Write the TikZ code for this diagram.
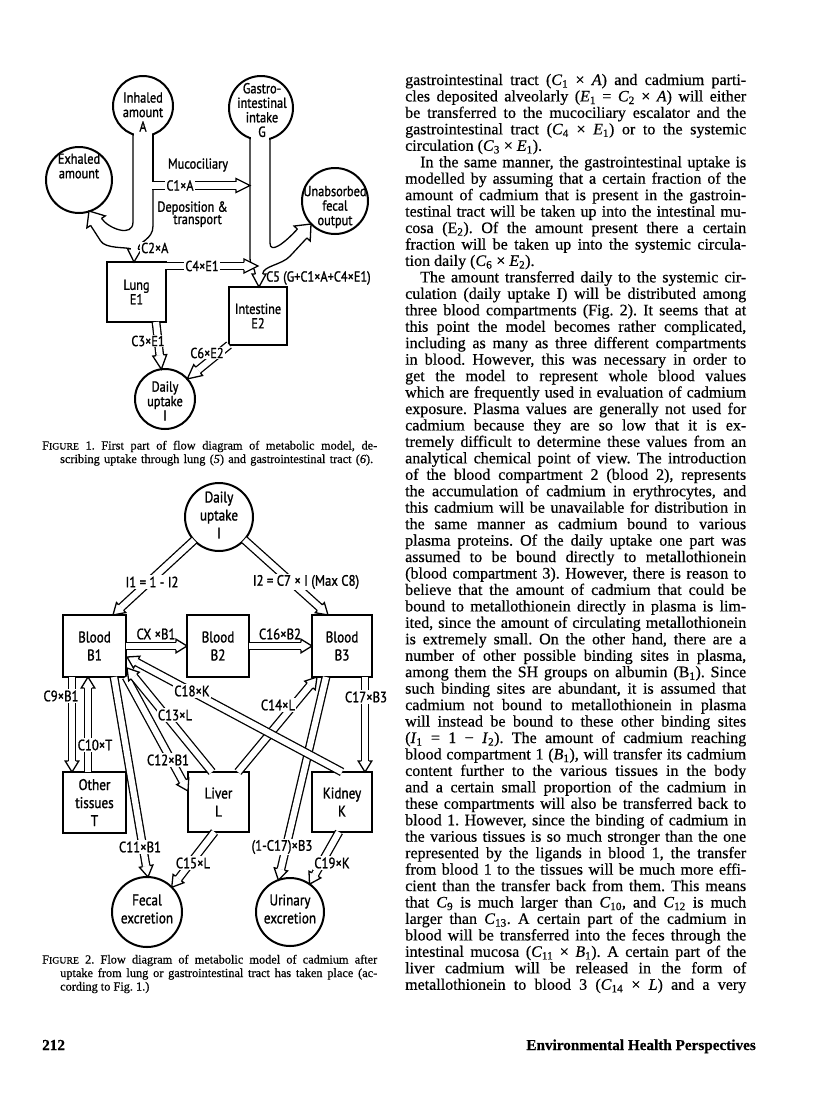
\documentclass[tikz,border=0pt]{standalone}
\usepackage{fontspec}
\usepackage{graphicx}
\setmainfont{Liberation Serif}[FakeBold=0.5]
\newfontfamily\lab[FakeStretch=0.85,FakeBold=1.2]{PT Sans}
\usetikzlibrary{calc}
\frenchspacing
\newsavebox\jbox
\newcommand\jline[2]{\sbox\jbox{#2}\ifdim\wd\jbox>#1\relax\resizebox{#1}{\ht\jbox}{#2}\else\makebox[#1][s]{#2}\fi}
\newcommand\J[1]{\jline{341pt}{#1}\par}
\newcommand\Jl[1]{\makebox[341pt][l]{#1}\par}
\newcommand\Ji[1]{\hspace*{15pt}\jline{326pt}{#1}\par}
\newcommand\Ci[1]{\textit{C}\textsubscript{#1}}
\newcommand\Ei[1]{\textit{E}\textsubscript{#1}}
\newcommand\Ii[1]{\textit{I}\textsubscript{#1}}
\newcommand\Bi[1]{\textit{B}\textsubscript{#1}}
\newcommand\fA{\lab\fontsize{14.5}{14.5}\selectfont}
\newcommand\fB{\lab\fontsize{15.5}{18}\selectfont}
\newcommand\fL{\lab\fontsize{15}{15}\selectfont}
\newcommand\capf{\fontsize{12.3}{14}\selectfont}
\newcommand\sCap[1]{{\fontsize{9.8}{10}\selectfont #1}}
\def\SW{3.75pt}\def\HW{7pt}\def\HL{13pt}\def\DD{6.2pt}
\newcommand\hhead[3]{%
  \path #2 coordinate (#1-s) #3 coordinate (#1-t);
  \coordinate (#1-b) at ($(#1-t)!\HL!(#1-s)$);
  \coordinate (#1-sl) at ($(#1-b)!\SW!90:(#1-t)$);
  \coordinate (#1-sr) at ($(#1-b)!\SW!-90:(#1-t)$);
  \coordinate (#1-wl) at ($(#1-b)!\HW!90:(#1-t)$);
  \coordinate (#1-wr) at ($(#1-b)!\HW!-90:(#1-t)$);
  \fill[white] (#1-wl) -- (#1-t) -- (#1-wr) -- cycle;
  \draw[ln] (#1-sl) -- (#1-wl) -- (#1-t) -- (#1-wr) -- (#1-sr);
}
\newcommand\harrow[3]{%
  \path #2 coordinate (#1-s) #3 coordinate (#1-t);
  \coordinate (#1-b) at ($(#1-t)!\HL!(#1-s)$);
  \draw[ln, double=white, double distance=\DD] (#1-s) -- (#1-b);
  \hhead{#1}{(#1-s)}{(#1-t)}%
}
\tikzset{
  ln/.style={line width=1.3pt, line cap=butt, line join=miter},
  box/.style={draw, line width=2.2pt, rectangle, inner sep=0pt, outer sep=0pt, align=center},
  circ/.style={draw, line width=2pt, circle, inner sep=0pt, outer sep=0pt},
  ctext/.style={align=center, inner sep=0pt},
  lbl/.style={fill=white, inner sep=1.2pt},
}
\begin{document}
\begin{tikzpicture}[x=1pt,y=-1pt]
\useasboundingbox (0,0) rectangle (816,1106);
\fill[white] (0,0) rectangle (816,1106);

% ================= FIGURE 1 =================
\node[circ, minimum size=66pt] (ex) at (79,180) {};
\node[circ, minimum size=60pt] (ia) at (143,106) {};
\node[circ, minimum size=64pt] (gi) at (261,108) {};
\node[circ, minimum size=66pt] (un) at (335,201) {};
\node[box, minimum width=59pt, minimum height=60pt, font=\fA] (lu) at (136.5,292) {Lung\\E1};
\node[box, minimum width=58pt, minimum height=58pt, font=\fA] (in) at (258,316) {Intestine\\E2};
\node[circ, minimum size=60pt] (du1) at (165,399) {};

% openings of the tubes in the circles
\fill[white] (133.7,126) rectangle (152.3,140);
\fill[white] (250.7,131) rectangle (269.3,143);

% heads of the tubes
\def\SW{6.5pt}\def\HW{11pt}\def\HL{13pt}
\hhead{eh}{(113,248)}{(89,211)}
\hhead{uh}{(285,252)}{(311,224)}
\def\SW{3.75pt}\def\HW{7pt}\def\HL{13pt}
\hhead{c2}{(135,235)}{($(lu.north)+(-2.5,0)$)}
\hhead{c5}{(259,255)}{($(in.north)+(1,0)$)}

% tube edges
\draw[ln] (133,134) -- (133,222) .. controls (133,238) and ($(eh-sr)+(6.5,10)$) .. (eh-sr);
\draw[ln] (153,134) -- (153,182);
\draw[ln] (153,189) -- (153,226) .. controls (153,240) and ($(c2-sl)+(0,-8)$) .. (c2-sl);
\draw[ln] (eh-sl) -- ($(eh-sl)+(10,15.5)$) .. controls +(5,8) and ($(c2-sr)+(-5,-2)$) .. (c2-sr);
\draw[ln] (250,139) -- (250,258) .. controls (250,266) and ($(c5-sr)+(0,-6)$) .. (c5-sr);
\draw[ln] (270,139) -- (270,243) .. controls (270,254) and ($(uh-sl)+(-13.6,14.7)$) .. (uh-sl);
\draw[ln] (uh-sr) -- ($(uh-sr)+(-17,18.3)$) .. controls +(-8,8.6) and ($(c5-sl)+(0,-8)$) .. (c5-sl);

% narrow arrows
\def\SW{3.75pt}\def\HW{7pt}\def\HL{14pt}\def\DD{6.2pt}
\harrow{c1}{(152.35,185.5)}{(250,185.5)}
\harrow{c4}{($(lu.north east)+(-1.2,4)$)}{(258,266)}
\harrow{c3}{($(lu.south)+(19.5,0)$)}{(du1.97)}
\harrow{c6}{(in.south west)}{(du1.42)}

% labels figure 1
\node[lbl, font=\fA, fill=none] (l1) at (198,165) {Mucociliary};
\node[lbl, font=\fA] (l2) at (180,185.5) {C1×A};
\node[lbl, font=\fA, anchor=west, fill=none] (l3) at (156,208) {Deposition \&};
\node[lbl, font=\fA, anchor=west, fill=none] (l4) at (172,221) {transport};
\node[lbl, font=\fA, anchor=west] (l5) at (139.8,248) {C2×A};
\node[lbl, font=\fA] (l6) at (202,266) {C4×E1};
\node[font=\fA, anchor=west, inner sep=0pt] (l7) at (266,278) {C5 (G+C1×A+C4×E1)};
\node[lbl, font=\fA] (l8) at (148,341) {C3×E1};
\node[lbl, font=\fA] (l9) at (207,353) {C6×E2};

\node[ctext, font=\fA] (ext) at (79,166) {Exhaled\\amount};
\node[ctext, font=\fA] (iat) at (143,112) {Inhaled\\amount\\A};
\node[ctext, font=\fA] (git) at (262,110) {Gastro-\\intestinal\\intake\\G};
\node[ctext, font=\fA] (unt) at (335,207) {Unabsorbed\\fecal\\output};
\node[ctext, font=\fA] (du1t) at (165,401) {Daily\\uptake\\I};

\node[anchor=base west, inner sep=0pt, font=\capf] (cap1a) at (42,449.5) {\jline{335pt}{F\sCap{IGURE} 1. First part of flow diagram of metabolic model, de-}};
\node[anchor=base west, inner sep=0pt, font=\capf] (cap1b) at (60,463) {\jline{313pt}{scribing uptake through lung (\textit{5}) and gastrointestinal tract (\textit{6}).}};

% ================= FIGURE 2 =================
\node[circ, minimum size=68pt] (du2) at (219,517) {};
\node[box, minimum width=63pt, minimum height=62pt, font=\fB] (b1) at (94.5,646) {Blood\\B1};
\node[box, minimum width=62pt, minimum height=62pt, font=\fB] (b2) at (218,646) {Blood\\B2};
\node[box, minimum width=60pt, minimum height=62pt, font=\fB] (b3) at (342,646) {Blood\\B3};
\node[box, minimum width=63pt, minimum height=61pt, font=\fB] (ot) at (94.5,802.5) {Other\\tissues\\T};
\node[box, minimum width=61pt, minimum height=60pt, font=\fB] (li) at (218.5,802) {Liver\\L};
\node[box, minimum width=60pt, minimum height=60pt, font=\fB] (ki) at (342,802) {Kidney\\K};
\node[circ, minimum size=70pt] (fe) at (147,912) {};
\node[circ, minimum size=68pt] (ur) at (290,912) {};

\def\SW{3.75pt}\def\HW{6.8pt}\def\HL{11pt}\def\DD{6.2pt}
\harrow{i1}{(du2.223)}{($(b1.north)+(18.5,0)$)}
\harrow{i2}{(du2.318)}{($(b3.north)+(-14,0)$)}
\harrow{cx}{(b1.east)}{(b2.west)}
\harrow{cs}{(b2.east)}{(b3.west)}
\harrow{c9}{($(b1.south west)+(9,0)$)}{($(ot.north west)+(9,0)$)}
\harrow{ct}{($(ot.north west)+(25,0)$)}{($(b1.south west)+(25,0)$)}
\harrow{ce}{($(b1.south west)+(51,0)$)}{($(fe.north)+(1,0)$)}
\harrow{cw}{(b1.south east)}{($(li.north west)+(0,19)$)}
\harrow{ch}{($(li.north west)+(24,0)$)}{($(b1.east)+(1,22)$)}
\harrow{cf}{($(li.north west)+(50,0)$)}{($(b3.south west)+(5,0)$)}
\harrow{cu}{($(b3.south west)+(14,0)$)}{(ur.110)}
\harrow{ck}{($(ki.north west)+(30,0)$)}{($(b1.east)+(1,11)$)}
\harrow{cv}{($(b3.south east)+(-7,0)$)}{($(ki.north east)+(-7,0)$)}
\harrow{cl}{($(li.south)+(-4,0)$)}{(fe.45)}
\harrow{cn}{($(ki.south)+(-3,0)$)}{(ur.55)}

\node[ctext, font=\fB] (du2t) at (219,515) {Daily\\uptake\\I};
\node[ctext, font=\fB] (fet) at (147,909) {Fecal\\excretion};
\node[ctext, font=\fB] (urt) at (290,909) {Urinary\\excretion};

\node[lbl, font=\fL] (m1) at (152,582) {I1 = 1 - I2};
\node[lbl, font=\fL] (m2) at (306,582) {I2 = C7 × I (Max C8)};
\node[lbl, font=\fL, fill=none] (m3) at (156,634) {CX ×B1};
\node[lbl, font=\fL, fill=none] (m4) at (280,634) {C16×B2};
\node[lbl, font=\fL] (m5) at (61,696) {C9×B1};
\node[lbl, font=\fL] (m6) at (95,745) {C10×T};
\node[lbl, font=\fL] (m7) at (140,847) {C11×B1};
\node[lbl, font=\fL] (m8) at (168,760) {C12×B1};
\node[lbl, font=\fL] (m9) at (175,715) {C13×L};
\node[lbl, font=\fL] (m10) at (192,691) {C18×K};
\node[lbl, font=\fL] (m11) at (278,705) {C14×L};
\node[lbl, font=\fL] (m12) at (282,847) {(1-C17)×B3};
\node[lbl, font=\fL] (m13) at (366,697) {C17×B3};
\node[lbl, font=\fL] (m14) at (193,863) {C15×L};
\node[lbl, font=\fL] (m15) at (332,863) {C19×K};

\node[anchor=base west, inner sep=0pt, font=\capf] (cap2a) at (42,963.5) {\jline{335pt}{F\sCap{IGURE} 2. Flow diagram of metabolic model of cadmium after}};
\node[anchor=base west, inner sep=0pt, font=\capf] (cap2b) at (60,977) {\jline{317pt}{uptake from lung or gastrointestinal tract has taken place (ac-}};
\node[anchor=base west, inner sep=0pt, font=\capf] (cap2c) at (60,990.5) {cording to Fig. 1.)};

% ================= RIGHT COLUMN =================
\node[anchor=base west, inner sep=0pt, font=\fontsize{16}{16.45}\selectfont] (col) at (405,85) {\parbox[t]{341pt}{\lineskiplimit=-20pt\lineskip=0pt\baselineskip=16.45pt\parindent=0pt\parskip=0pt
\J{gastrointestinal tract (\Ci{1} × \textit{A}) and cadmium parti-}
\J{cles deposited alveolarly (\Ei{1} = \Ci{2} × \textit{A}) will either}
\J{be transferred to the mucociliary escalator and the}
\J{gastrointestinal tract (\Ci{4} × \Ei{1}) or to the systemic}
\Jl{circulation (\Ci{3} × \Ei{1}).}
\Ji{In the same manner, the gastrointestinal uptake is}
\J{modelled by assuming that a certain fraction of the}
\J{amount of cadmium that is present in the gastroin-}
\J{testinal tract will be taken up into the intestinal mu-}
\J{cosa (E\textsubscript{2}). Of the amount present there a certain}
\J{fraction will be taken up into the systemic circula-}
\Jl{tion daily (\Ci{6} × \Ei{2}).}
\Ji{The amount transferred daily to the systemic cir-}
\J{culation (daily uptake I) will be distributed among}
\J{three blood compartments (Fig. 2). It seems that at}
\J{this point the model becomes rather complicated,}
\J{including as many as three different compartments}
\J{in blood. However, this was necessary in order to}
\J{get the model to represent whole blood values}
\J{which are frequently used in evaluation of cadmium}
\J{exposure. Plasma values are generally not used for}
\J{cadmium because they are so low that it is ex-}
\J{tremely difficult to determine these values from an}
\J{analytical chemical point of view. The introduction}
\J{of the blood compartment 2 (blood 2), represents}
\J{the accumulation of cadmium in erythrocytes, and}
\J{this cadmium will be unavailable for distribution in}
\J{the same manner as cadmium bound to various}
\J{plasma proteins. Of the daily uptake one part was}
\J{assumed to be bound directly to metallothionein}
\J{(blood compartment 3). However, there is reason to}
\J{believe that the amount of cadmium that could be}
\J{bound to metallothionein directly in plasma is lim-}
\J{ited, since the amount of circulating metallothionein}
\J{is extremely small. On the other hand, there are a}
\J{number of other possible binding sites in plasma,}
\J{among them the SH groups on albumin (B\textsubscript{1}). Since}
\J{such binding sites are abundant, it is assumed that}
\J{cadmium not bound to metallothionein in plasma}
\J{will instead be bound to these other binding sites}
\J{(\Ii{1} = 1 − \Ii{2}). The amount of cadmium reaching}
\J{blood compartment 1 (\Bi{1}), will transfer its cadmium}
\J{content further to the various tissues in the body}
\J{and a certain small proportion of the cadmium in}
\J{these compartments will also be transferred back to}
\J{blood 1. However, since the binding of cadmium in}
\J{the various tissues is so much stronger than the one}
\J{represented by the ligands in blood 1, the transfer}
\J{from blood 1 to the tissues will be much more effi-}
\J{cient than the transfer back from them. This means}
\J{that \Ci{9} is much larger than \Ci{10}, and \Ci{12} is much}
\J{larger than \Ci{13}. A certain part of the cadmium in}
\J{blood will be transferred into the feces through the}
\J{intestinal mucosa (\Ci{11} × \Bi{1}). A certain part of the}
\J{liver cadmium will be released in the form of}
\J{metallothionein to blood 3 (\Ci{14} × \textit{L}) and a very}
}};

\node[anchor=base west, inner sep=0pt, font=\fontsize{15.2}{16}\selectfont\bfseries] (pg) at (42,1050) {212};
\node[anchor=base east, inner sep=0pt, font=\fontsize{15.2}{16}\selectfont\bfseries] (jr) at (756,1050) {Environmental Health Perspectives};
\end{tikzpicture}
\end{document}
